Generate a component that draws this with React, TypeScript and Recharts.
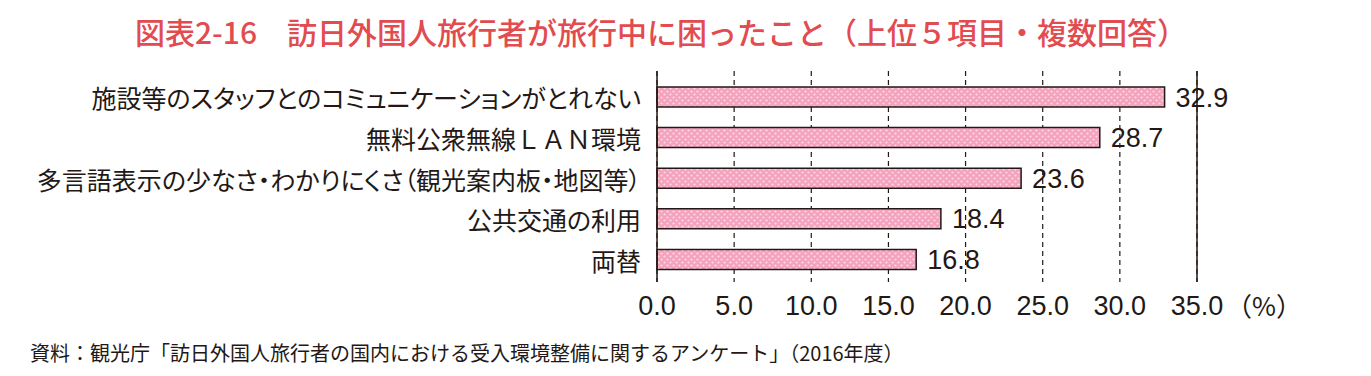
import React from 'react';
import {
    BarChart,
    Bar,
    XAxis,
    YAxis,
    CartesianGrid,
    ReferenceLine,
    LabelList,
} from 'recharts';

// 訪日外国人旅行者が旅行中に困ったこと（上位５項目）
const categories = [
    '施設等のスタッフとのコミュニケーションがとれない',
    '無料公衆無線ＬＡＮ環境',
    '多言語表示の少なさ・わかりにくさ（観光案内板・地図等）',
    '公共交通の利用',
    '両替',
];
const values = [32.9, 28.7, 23.6, 18.4, 16.8];
const xTicks = [0, 5, 10, 15, 20, 25, 30, 35];

const data = categories.map((name, i) => ({ name, value: values[i] }));

const INK = '#231815';
const JP = "'Noto Sans CJK JP', 'Noto Sans', sans-serif";
const NUM = "'Liberation Sans', Arial, sans-serif";

// full-width latin letters keep their full width, kana get proportional spacing
const splitRuns = (s: string) => s.match(/[\uFF21-\uFF3A\uFF41-\uFF5A]+|[^\uFF21-\uFF3A\uFF41-\uFF5A]+/g) || [s];

const CategoryTick = ({ x, y, payload }: any) => (
    <text
        x={x - 16}
        y={y}
        textAnchor="end"
        dominantBaseline="central"
        fontFamily={JP}
        fontSize={25}
        fill={INK}
    >
        {splitRuns(String(payload.value)).map((run, i) => (
            <tspan
                key={i}
                style={{ fontFeatureSettings: /[\uFF21-\uFF5A]/.test(run) ? 'normal' : "'palt'" }}
            >
                {run}
            </tspan>
        ))}
    </text>
);

const ValueTick = ({ x, y, payload }: any) => (
    <text x={x} y={y + 33} textAnchor="middle" fontFamily={NUM} fontSize={27} fill={INK}>
        {Number(payload.value).toFixed(1)}
    </text>
);

export default function App() {
    return (
        <div style={{ position: 'relative', width: 1371, height: 376, margin: '-8px 0 0 -8px', background: '#fff' }}>
            <svg width={0} height={0} style={{ position: 'absolute' }}>
                <defs>
                    <pattern id="pinkDots" width={6} height={6} patternUnits="userSpaceOnUse">
                        <rect width={6} height={6} fill="#f4a3bf" />
                        <circle cx={1.5} cy={1.5} r={1.1} fill="#fcd9e5" />
                        <circle cx={4.5} cy={4.5} r={1.1} fill="#fcd9e5" />
                    </pattern>
                </defs>
            </svg>

            <div
                style={{
                    position: 'absolute',
                    left: 0,
                    width: 1322,
                    top: 12,
                    textAlign: 'center',
                    fontFamily: JP,
                    fontSize: 30,
                    fontWeight: 500,
                    color: '#e24b4f',
                    lineHeight: '38px',
                    whiteSpace: 'nowrap',
                }}
            >
                図表2-16　訪日外国人旅行者が旅行中に困ったこと（上位５項目・複数回答）
            </div>

            <BarChart
                width={1371}
                height={376}
                data={data}
                layout="vertical"
                margin={{ top: 71, right: 174, bottom: 34, left: 0 }}
            >
                <CartesianGrid horizontal={false} stroke={INK} strokeWidth={1.2} strokeDasharray="5 4" />
                <XAxis
                    type="number"
                    domain={[0, 35]}
                    ticks={xTicks}
                    axisLine={false}
                    tickLine={false}
                    tickSize={0}
                    tickMargin={0}
                    height={60}
                    tick={<ValueTick />}
                    interval={0}
                />
                <YAxis
                    type="category"
                    dataKey="name"
                    width={657}
                    axisLine={{ stroke: INK, strokeWidth: 1.5 }}
                    tickLine={false}
                    tickSize={0}
                    tickMargin={0}
                    padding={{ top: 6, bottom: 2 }}
                    tick={<CategoryTick />}
                    interval={0}
                />
                <ReferenceLine x={35} stroke={INK} strokeWidth={1.5} />
                <Bar dataKey="value" fill="url(#pinkDots)" stroke={INK} strokeWidth={1.5} barSize={20} isAnimationActive={false}>
                    <LabelList
                        dataKey="value"
                        position="right"
                        offset={11}
                        fontFamily={NUM}
                        fontSize={27}
                        fill={INK}
                        formatter={(v: any) => Number(v).toFixed(1)}
                    />
                </Bar>
            </BarChart>

            <div
                style={{
                    position: 'absolute',
                    left: 1226,
                    top: 288,
                    fontFamily: JP,
                    fontSize: 26,
                    lineHeight: '34px',
                    color: INK,
                }}
            >
                （%）
            </div>

            <div
                style={{
                    position: 'absolute',
                    left: 30,
                    top: 340,
                    fontFamily: JP,
                    fontSize: 20,
                    lineHeight: '26px',
                    color: INK,
                    whiteSpace: 'nowrap',
                }}
            >
                資料：観光庁「訪日外国人旅行者の国内における受入環境整備に関するアンケート」（2016年度）
            </div>
        </div>
    );
}
